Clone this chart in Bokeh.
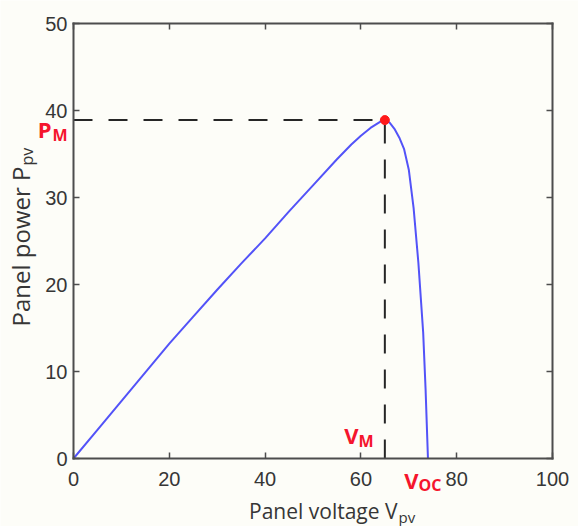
import math
from bokeh.plotting import figure
from bokeh.models import Range1d, LinearAxis, Label, FixedTicker, CustomJSTickFormatter
from bokeh.embed import file_html
from bokeh.resources import INLINE

# ---- data ----
voltage = [0, 5, 10, 15, 20, 25, 30, 35, 40, 45, 50, 55, 58, 60, 62, 64, 65,
           66, 67, 68, 69, 70, 71, 72, 73, 73.5, 74]
power = [0, 3.3, 6.6, 9.9, 13.2, 16.3, 19.4, 22.4, 25.3, 28.4, 31.4, 34.4, 36.1,
         37.1, 38.0, 38.7, 38.9, 38.6, 37.9, 36.9, 35.6, 33.2, 28.8, 22.5, 14.5, 8.0, 0]
v_mpp = 65
p_mpp = 38.9
x_min, x_max = 0, 100
y_min, y_max = 0, 50
x_ticks = [0, 20, 40, 60, 80, 100]
y_ticks = [0, 10, 20, 30, 40, 50]

BG = "#fdfdf8"
AX = "#4d4d4d"
TXT = "#363636"
RED = "#f5152d"

W, H = 578, 526
# pixel box of the axes area in the picture
BL, BR, BT, BB = 73, 552, 23, 458
sx = (BR - BL) / (x_max - x_min)
sy = (BB - BT) / (y_max - y_min)

# the frame covers the whole canvas, so texts around the box are not clipped
x_range = Range1d(x_min - BL / sx, x_max + (W - BR) / sx)
y_range = Range1d(y_min - (H - BB) / sy, y_max + BT / sy)

p = figure(width=W, height=H, x_range=x_range, y_range=y_range, title=None,
           output_backend="svg", toolbar_location=None,
           x_axis_location=None, y_axis_location=None,
           min_border=0)
p.background_fill_color = BG
p.border_fill_color = BG
p.outline_line_color = None
p.grid.visible = False


def make_axis(ticks, loc, bounds, labels=True):
    ax = LinearAxis(fixed_location=loc, bounds=bounds)
    ax.ticker = FixedTicker(ticks=ticks)
    ax.axis_line_color = AX
    ax.axis_line_width = 2
    ax.axis_line_cap = "square"
    ax.major_tick_line_color = AX
    ax.major_tick_line_width = 1.5
    ax.major_tick_in = 6
    ax.major_tick_out = 0
    ax.minor_tick_line_color = None
    ax.major_label_text_font = "Liberation Sans"
    ax.major_label_text_font_size = "20px"
    ax.major_label_text_color = TXT
    if not labels:
        ax.formatter = CustomJSTickFormatter(code="return ''")
    return ax


bottom = make_axis(x_ticks, y_min, (x_min, x_max))
bottom.major_label_standoff = 13
left = make_axis(y_ticks, x_min, (y_min, y_max))
left.major_label_standoff = 6
top = make_axis(x_ticks, y_max, (x_min, x_max), labels=False)
right = make_axis(y_ticks, x_max, (y_min, y_max), labels=False)
p.add_layout(bottom, "below")
p.add_layout(left, "left")
p.add_layout(top, "above")
p.add_layout(right, "right")

# dashed guides to the maximum power point
p.line([x_min, v_mpp], [p_mpp, p_mpp], line_color="#262626", line_width=2, line_dash="19 16")
p.line([v_mpp, v_mpp], [y_min, p_mpp], line_color="#262626", line_width=2, line_dash="19 16")

# P-V curve
p.line(voltage, power, line_color="#5353f8", line_width=2)
p.scatter([v_mpp], [p_mpp], size=9, color="#ff1a1a")


def lab(cx, cy, text, size, color, align="left", bold=False, rotated=False, font="Open Sans"):
    # (cx, cy): wanted baseline point in canvas pixels from the top-left corner
    shift = 0.4 * size  # compensation for where the renderer puts the baseline
    if rotated:
        cx -= shift
    else:
        cy -= shift
    p.add_layout(Label(x=cx, y=H - cy, x_units="screen", y_units="screen",
                       text=text, text_font=font,
                       text_font_size=f"{size}px", text_color=color,
                       text_font_style="bold" if bold else "normal",
                       text_align=align, text_baseline="alphabetic",
                       angle=math.pi / 2 if rotated else 0.0))


# axis titles with subscripts
lab(397, 519, "Panel voltage V", 21, TXT, align="right")
lab(398, 522, "pv", 15, TXT, align="left")
lab(30, 166, "Panel power P", 24, TXT, align="right", rotated=True)
lab(33, 165, "pv", 16, TXT, align="left", rotated=True)

# point annotations
lab(51, 137, "P", 22, RED, align="right", bold=True)
lab(52, 141, "M", 16, RED, align="left", bold=True)
lab(358, 443, "V", 22, RED, align="right", bold=True)
lab(358, 447, "M", 16, RED, align="left", bold=True)
lab(418, 488, "V", 22, RED, align="right", bold=True)
lab(418, 491, "OC", 16, RED, align="left", bold=True)

open("out.html", "w").write(file_html(p, INLINE))
